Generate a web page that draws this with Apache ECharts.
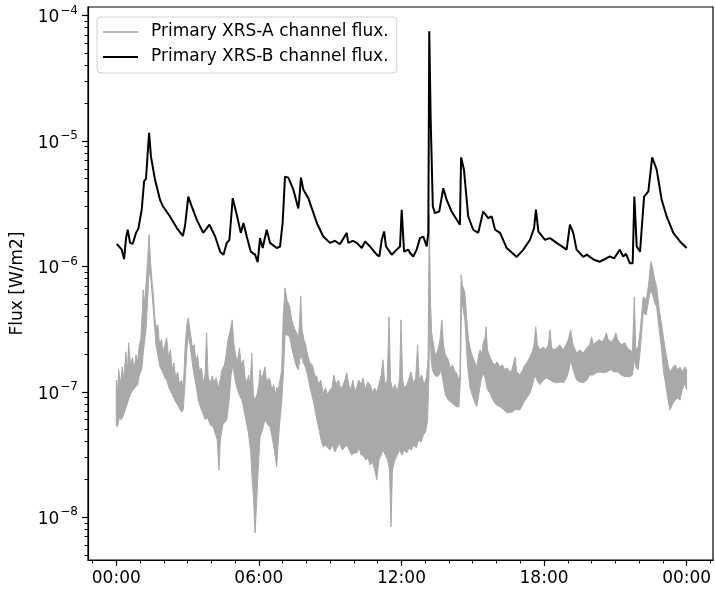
<!DOCTYPE html>
<html>
<head>
<meta charset="utf-8">
<script src="https://cdn.jsdelivr.net/npm/echarts@6/dist/echarts.min.js"></script>
<style>
html,body{margin:0;padding:0;background:#fff;}
#chart{width:715px;height:589px;}
</style>
</head>
<body>
<div id="chart"></div>
<script>
// ---- Data (hours since 00:00, flux in W/m2) ----
const seriesNames = ['Primary XRS-A channel flux.', 'Primary XRS-B channel flux.'];

// XRS-B (long channel)
const timesB = [0.02,0.23,0.33,0.41,0.48,0.58,0.69,0.83,0.93,1.07,1.17,1.25,1.38,1.46,1.63,1.84,1.97,2.26,2.55,2.80,2.89,3.03,3.18,3.39,3.66,3.92,4.16,4.37,4.51,4.65,4.76,4.90,5.07,5.24,5.35,5.49,5.66,5.84,5.95,6.05,6.16,6.33,6.47,6.75,6.89,7.00,7.10,7.24,7.45,7.66,7.70,7.77,7.87,8.08,8.44,8.71,8.99,9.20,9.41,9.70,9.76,9.95,10.12,10.33,10.47,10.68,10.96,11.07,11.17,11.27,11.35,11.59,11.80,11.94,12.01,12.11,12.29,12.36,12.50,12.64,12.78,12.92,13.06,13.13,13.17,13.23,13.32,13.41,13.59,13.76,13.90,14.11,14.46,14.51,14.63,14.81,15.02,15.23,15.44,15.65,15.80,15.94,16.15,16.43,16.85,17.13,17.41,17.58,17.66,17.76,18.04,18.25,18.53,18.95,19.09,19.23,19.37,19.65,19.80,19.93,20.10,20.35,20.55,20.77,20.95,21.19,21.33,21.45,21.61,21.73,21.80,21.90,22.04,22.21,22.39,22.55,22.74,22.95,23.16,23.44,23.72,24.00];
const fluxB = [1.51e-6,1.36e-6,1.14e-6,1.68e-6,1.96e-6,1.54e-6,1.51e-6,1.85e-6,2.0e-6,2.83e-6,4.76e-6,5.0e-6,1.16e-5,7.5e-6,4.9e-6,3.4e-6,3.0e-6,2.5e-6,2.02e-6,1.75e-6,2.08e-6,3.6e-6,3.0e-6,2.35e-6,1.85e-6,2.15e-6,1.73e-6,1.31e-6,1.24e-6,1.54e-6,1.63e-6,3.5e-6,2.58e-6,1.85e-6,2.22e-6,1.73e-6,1.31e-6,1.24e-6,1.08e-6,1.68e-6,1.40e-6,1.96e-6,1.54e-6,1.40e-6,1.44e-6,2.22e-6,5.2e-6,5.1e-6,4.1e-6,2.9e-6,3.4e-6,5.1e-6,4.1e-6,3.5e-6,2.22e-6,1.73e-6,1.54e-6,1.60e-6,1.50e-6,1.85e-6,1.54e-6,1.60e-6,1.54e-6,1.40e-6,1.58e-6,1.44e-6,1.24e-6,1.20e-6,1.63e-6,1.90e-6,1.44e-6,1.24e-6,1.36e-6,1.44e-6,2.83e-6,1.31e-6,1.36e-6,1.28e-6,1.20e-6,1.36e-6,1.68e-6,1.73e-6,1.44e-6,1.85e-6,7.5e-5,1.48e-5,3.0e-6,2.66e-6,2.74e-6,4.2e-6,3.4e-6,2.74e-6,2.15e-6,7.4e-6,5.9e-6,2.5e-6,1.96e-6,1.85e-6,2.74e-6,2.43e-6,2.5e-6,1.96e-6,1.85e-6,1.40e-6,1.19e-6,1.36e-6,1.63e-6,2.02e-6,2.83e-6,1.9e-6,1.63e-6,1.68e-6,1.54e-6,1.36e-6,2.15e-6,1.85e-6,1.36e-6,1.19e-6,1.24e-6,1.19e-6,1.13e-6,1.09e-6,1.14e-6,1.20e-6,1.16e-6,1.36e-6,1.20e-6,1.26e-6,1.06e-6,1.06e-6,3.6e-6,1.44e-6,1.31e-6,3.6e-6,3.96e-6,7.4e-6,5.9e-6,3.4e-6,2.5e-6,1.85e-6,1.58e-6,1.40e-6];

// XRS-A (short channel) is a noisy band: upper and lower edges
const timesUpperA = [0.00,0.05,0.10,0.18,0.25,0.32,0.40,0.47,0.52,0.60,0.68,0.75,0.83,0.90,0.97,1.03,1.10,1.13,1.18,1.25,1.32,1.38,1.44,1.50,1.56,1.62,1.70,1.75,1.82,1.90,1.97,2.05,2.12,2.20,2.28,2.35,2.42,2.50,2.58,2.66,2.75,2.82,2.90,2.97,3.03,3.10,3.20,3.28,3.35,3.42,3.50,3.58,3.66,3.74,3.80,3.86,3.95,4.03,4.10,4.20,4.30,4.37,4.45,4.55,4.62,4.70,4.80,4.88,4.95,5.02,5.10,5.18,5.26,5.35,5.42,5.50,5.57,5.63,5.70,5.77,5.84,5.92,6.00,6.05,6.12,6.20,6.26,6.33,6.40,6.47,6.55,6.62,6.70,6.75,6.82,6.89,6.96,7.02,7.10,7.18,7.30,7.38,7.45,7.52,7.59,7.66,7.72,7.76,7.82,7.90,7.97,8.05,8.15,8.25,8.35,8.44,8.52,8.60,8.71,8.80,8.90,8.99,9.08,9.15,9.25,9.35,9.45,9.55,9.62,9.70,9.78,9.88,9.95,10.05,10.12,10.20,10.30,10.38,10.48,10.58,10.68,10.78,10.88,10.96,11.05,11.15,11.22,11.30,11.40,11.48,11.54,11.62,11.73,11.82,11.92,11.98,12.05,12.12,12.22,12.30,12.40,12.50,12.60,12.68,12.75,12.85,12.95,13.05,13.12,13.17,13.22,13.27,13.35,13.42,13.48,13.56,13.62,13.70,13.77,13.85,13.97,14.05,14.15,14.25,14.32,14.40,14.46,14.51,14.56,14.67,14.75,14.82,14.88,14.96,15.05,15.17,15.25,15.31,15.38,15.44,15.52,15.56,15.62,15.72,15.82,15.92,16.02,16.15,16.25,16.35,16.45,16.55,16.65,16.78,16.85,16.99,17.10,17.20,17.30,17.41,17.50,17.58,17.65,17.72,17.82,17.97,18.08,18.18,18.25,18.32,18.42,18.55,18.65,18.81,18.92,19.02,19.12,19.22,19.37,19.50,19.65,19.80,19.92,20.00,20.08,20.20,20.32,20.45,20.55,20.62,20.70,20.85,20.95,21.02,21.10,21.25,21.40,21.50,21.61,21.72,21.80,21.86,21.96,22.05,22.17,22.30,22.40,22.49,22.57,22.66,22.74,22.85,22.95,23.02,23.12,23.22,23.30,23.40,23.51,23.62,23.72,23.82,23.93,24.00];
const upperA = [1.24e-7,9.45e-8,1.5e-7,1.14e-7,1.58e-7,1.24e-7,2.08e-7,1.44e-7,2.46e-7,1.64e-7,1.87e-7,1.5e-7,1.97e-7,1.73e-7,2.37e-7,2.6e-7,4.5e-7,6.5e-7,4.94e-7,7.13e-7,1.13e-6,1.79e-6,1.09e-6,7.8e-7,5.93e-7,3.89e-7,3.12e-7,3.42e-7,2.37e-7,2.6e-7,2.08e-7,2.37e-7,2.69e-7,1.87e-7,2.16e-7,1.5e-7,1.7e-7,1.29e-7,1.44e-7,1.14e-7,1.24e-7,1.04e-7,2.37e-7,3.42e-7,3.89e-7,3.12e-7,2.28e-7,2.37e-7,1.73e-7,1.97e-7,1.44e-7,1.55e-7,1.18e-7,1.36e-7,2.95e-7,1.36e-7,1.14e-7,1.34e-7,1.2e-7,1.29e-7,1.07e-7,1.24e-7,1.5e-7,1.64e-7,1.97e-7,2.6e-7,3.12e-7,3.75e-7,2.37e-7,1.97e-7,1.73e-7,2.24e-7,1.64e-7,1.8e-7,1.29e-7,1.18e-7,1.36e-7,1.07e-7,2.04e-7,9.45e-8,8.6e-8,9.45e-8,1.14e-7,1.5e-7,1.24e-7,1.44e-7,1.58e-7,1.14e-7,1.29e-7,1.24e-7,1.04e-7,1.14e-7,9.45e-8,1.09e-7,1.04e-7,1.24e-7,1.5e-7,3.75e-7,6.75e-7,5.41e-7,4.76e-7,3.75e-7,3.42e-7,3.12e-7,2.95e-7,2.6e-7,3.75e-7,5.82e-7,3.12e-7,2.6e-7,2.37e-7,1.97e-7,1.7e-7,1.64e-7,1.36e-7,1.32e-7,1.14e-7,1.24e-7,9.8e-8,1.07e-7,9.45e-8,1.04e-7,1.07e-7,1.36e-7,1.14e-7,1.24e-7,1.04e-7,1.14e-7,1.24e-7,1.42e-7,1.14e-7,1.04e-7,1.24e-7,1.0e-7,1.09e-7,1.24e-7,1.14e-7,1.29e-7,1.04e-7,1.2e-7,1.14e-7,1.0e-7,1.07e-7,9.8e-8,1.14e-7,1.36e-7,1.8e-7,1.14e-7,1.24e-7,3.96e-7,1.24e-7,1.04e-7,1.14e-7,1.0e-7,1.24e-7,3.75e-7,1.24e-7,1.07e-7,1.14e-7,1.24e-7,1.44e-7,1.18e-7,1.29e-7,2.37e-7,1.24e-7,1.36e-7,1.14e-7,1.29e-7,1.8e-7,2.58e-6,5.41e-7,2.95e-7,2.37e-7,1.97e-7,2.04e-7,2.24e-7,2.6e-7,3.75e-7,2.37e-7,1.97e-7,1.8e-7,1.55e-7,1.64e-7,1.44e-7,1.42e-7,1.24e-7,1.36e-7,8.6e-7,7.13e-7,6.15e-7,3.75e-7,2.6e-7,2.28e-7,1.97e-7,1.8e-7,1.58e-7,1.97e-7,2.16e-7,1.97e-7,2.46e-7,2.69e-7,3.3e-7,2.16e-7,1.9e-7,1.73e-7,1.64e-7,1.73e-7,1.58e-7,1.64e-7,1.5e-7,1.55e-7,1.44e-7,1.5e-7,1.9e-7,1.44e-7,1.36e-7,1.5e-7,1.64e-7,1.73e-7,1.9e-7,2.08e-7,2.37e-7,3.3e-7,2.37e-7,2.16e-7,2.28e-7,2.16e-7,2.37e-7,3.12e-7,2.24e-7,2.16e-7,2.24e-7,2.37e-7,2.16e-7,2.37e-7,2.6e-7,3.12e-7,2.37e-7,2.04e-7,2.16e-7,2.04e-7,2.24e-7,2.37e-7,2.74e-7,2.37e-7,2.5e-7,2.6e-7,2.5e-7,2.69e-7,2.95e-7,2.6e-7,2.5e-7,2.69e-7,2.95e-7,2.6e-7,2.37e-7,2.46e-7,2.24e-7,2.16e-7,2.08e-7,5.72e-7,2.16e-7,2.28e-7,3.12e-7,5.72e-7,5.41e-7,7.13e-7,1.09e-6,9.75e-7,7.8e-7,6.87e-7,4.5e-7,3.42e-7,2.74e-7,2.08e-7,1.64e-7,1.42e-7,1.55e-7,1.64e-7,1.5e-7,1.58e-7,1.44e-7,1.58e-7,1.5e-7];
const timesLowerA = [0.00,0.05,0.12,0.20,0.28,0.35,0.45,0.55,0.65,0.72,0.80,0.90,0.97,1.07,1.15,1.25,1.32,1.38,1.46,1.56,1.67,1.75,1.84,1.95,2.05,2.12,2.22,2.30,2.40,2.50,2.58,2.68,2.75,2.82,2.90,2.97,3.03,3.10,3.17,3.24,3.35,3.45,3.53,3.62,3.74,3.85,3.95,4.08,4.18,4.25,4.32,4.38,4.48,4.58,4.65,4.75,4.83,4.90,5.00,5.07,5.18,5.28,5.35,5.45,5.56,5.65,5.72,5.78,5.84,5.90,5.97,6.05,6.15,6.26,6.38,6.47,6.58,6.68,6.75,6.82,6.89,6.96,7.04,7.10,7.18,7.30,7.40,7.50,7.59,7.66,7.72,7.78,7.86,7.94,8.05,8.15,8.28,8.44,8.55,8.62,8.71,8.80,8.90,8.99,9.10,9.20,9.30,9.40,9.50,9.60,9.70,9.80,9.90,10.00,10.12,10.22,10.30,10.38,10.50,10.60,10.68,10.78,10.88,10.96,11.05,11.15,11.22,11.32,11.42,11.50,11.56,11.62,11.73,11.82,11.92,12.02,12.12,12.22,12.32,12.42,12.52,12.62,12.72,12.82,12.92,13.02,13.10,13.15,13.20,13.25,13.30,13.40,13.48,13.58,13.66,13.74,13.85,13.97,14.08,14.20,14.32,14.42,14.48,14.53,14.60,14.67,14.78,14.88,14.98,15.08,15.17,15.25,15.35,15.44,15.52,15.62,15.72,15.85,15.98,16.15,16.30,16.40,16.50,16.65,16.80,16.99,17.10,17.20,17.30,17.41,17.52,17.62,17.70,17.82,17.97,18.10,18.25,18.40,18.55,18.70,18.81,18.95,19.05,19.12,19.22,19.37,19.50,19.65,19.80,19.92,20.05,20.20,20.35,20.50,20.65,20.80,20.95,21.10,21.25,21.40,21.50,21.61,21.72,21.80,21.88,21.96,22.05,22.17,22.30,22.40,22.49,22.57,22.66,22.74,22.85,22.95,23.02,23.12,23.22,23.30,23.40,23.51,23.62,23.72,23.82,23.93,24.00];
const lowerA = [5.45e-8,5.25e-8,6.2e-8,6.0e-8,6.3e-8,6.9e-8,7.9e-8,9.1e-8,1.0e-7,1.04e-7,1.09e-7,1.14e-7,1.36e-7,1.5e-7,2.16e-7,3.12e-7,5.41e-7,9.4e-7,7.8e-7,4.5e-7,2.37e-7,1.97e-7,1.58e-7,1.44e-7,1.29e-7,1.24e-7,1.07e-7,1.0e-7,9.1e-8,8.3e-8,7.9e-8,7.2e-8,6.9e-8,7.2e-8,1.24e-7,2.16e-7,2.85e-7,2.37e-7,1.87e-7,1.5e-7,1.14e-7,8.6e-8,7.6e-8,6.9e-8,6.0e-8,6.2e-8,5.45e-8,5.25e-8,4.53e-8,4.13e-8,2.38e-8,4.13e-8,5.45e-8,5.75e-8,6.0e-8,8.6e-8,1.36e-7,1.64e-7,1.24e-7,1.09e-7,9.45e-8,8.6e-8,7.6e-8,6.0e-8,4.7e-8,3.44e-8,1.98e-8,1.37e-8,7.5e-9,1.25e-8,2.38e-8,4.37e-8,4.97e-8,6.0e-8,5.45e-8,5.25e-8,4.13e-8,3.13e-8,2.52e-8,4.13e-8,6.0e-8,8.15e-8,1.5e-7,2.85e-7,2.85e-7,2.74e-7,2.16e-7,1.8e-7,1.58e-7,1.5e-7,1.8e-7,1.97e-7,1.73e-7,1.61e-7,1.36e-7,1.09e-7,8.6e-8,6.0e-8,4.8e-8,4.13e-8,3.63e-8,3.77e-8,3.57e-8,3.44e-8,3.77e-8,3.31e-8,3.63e-8,3.91e-8,3.44e-8,3.57e-8,3.77e-8,3.44e-8,3.13e-8,3.25e-8,3.25e-8,3.57e-8,3.13e-8,3.13e-8,2.86e-8,2.97e-8,2.61e-8,2.76e-8,2.38e-8,1.98e-8,2.86e-8,3.13e-8,3.44e-8,3.13e-8,2.86e-8,2.38e-8,8.4e-9,2.38e-8,2.86e-8,3.13e-8,3.44e-8,3.13e-8,3.44e-8,3.25e-8,3.57e-8,3.44e-8,3.77e-8,3.57e-8,4.13e-8,3.98e-8,4.53e-8,4.8e-8,6.0e-8,1.24e-7,3.75e-7,1.8e-7,1.5e-7,1.36e-7,1.32e-7,1.36e-7,1.5e-7,1.24e-7,9.45e-8,8.6e-8,8.3e-8,7.9e-8,7.6e-8,7.6e-8,1.24e-7,5.41e-7,4.5e-7,3.75e-7,1.64e-7,1.09e-7,9.45e-8,8.3e-8,7.6e-8,9.45e-8,1.24e-7,1.42e-7,1.29e-7,1.04e-7,9.8e-8,8.6e-8,7.9e-8,7.6e-8,7.2e-8,6.9e-8,6.8e-8,6.9e-8,7.2e-8,7.2e-8,7.9e-8,8.6e-8,9.1e-8,9.8e-8,1.14e-7,1.36e-7,1.24e-7,1.14e-7,1.24e-7,1.29e-7,1.24e-7,1.2e-7,1.18e-7,1.2e-7,1.18e-7,1.29e-7,1.5e-7,1.8e-7,1.5e-7,1.24e-7,1.2e-7,1.18e-7,1.24e-7,1.36e-7,1.36e-7,1.42e-7,1.44e-7,1.42e-7,1.44e-7,1.5e-7,1.44e-7,1.44e-7,1.36e-7,1.32e-7,1.32e-7,1.32e-7,1.36e-7,1.8e-7,1.55e-7,1.5e-7,2.16e-7,4.26e-7,4.11e-7,5.41e-7,6.5e-7,5.93e-7,5.12e-7,4.76e-7,3.12e-7,2.16e-7,1.5e-7,1.14e-7,8.6e-8,7.2e-8,7.9e-8,8.6e-8,8.9e-8,8.6e-8,1.04e-7,1.18e-7,1.04e-7];

// ---- Axes ticks ----
const xMajorTicks = [0, 6, 12, 18, 24];
const xTickLabels = ['00:00', '06:00', '12:00', '18:00', '00:00'];
const xMinorTicks = [-1,0,1,2,3,4,5,6,7,8,9,10,11,12,13,14,15,16,17,18,19,20,21,22,23,24,25];
const yMajorTicks = [1e-8, 1e-7, 1e-6, 1e-5, 1e-4];
const yTickExponents = ['8', '7', '6', '5', '4'];
const yMinorMantissas = [2,3,4,5,6,7,8,9];
const yMinorDecades = [1e-9, 1e-8, 1e-7, 1e-6, 1e-5];

const xMin = -1.19, xMax = 25.11;
const yMin = 4.56e-9, yMax = 1.17e-4;

const yMinorTicks = [];
yMinorDecades.forEach(d => yMinorMantissas.forEach(m => {
  const v = m * d;
  if (v > yMin && v < yMax) yMinorTicks.push(v);
}));

const dataB = fluxB.map((v, i) => [timesB[i], v]);
const upperPts = upperA.map((v, i) => [timesUpperA[i], v]);
const lowerPts = lowerA.map((v, i) => [timesLowerA[i], v]);

const FONT = 'DejaVu Sans';
const GREY = '#a9a9a9';

const chart = echarts.init(document.getElementById('chart'), null, {renderer: 'canvas'});
chart.setOption({
  animation: false,
  backgroundColor: '#ffffff',
  textStyle: {fontFamily: FONT},
  grid: {left: 88, right: 2, top: 7, bottom: 29, show: true, borderColor: '#000', borderWidth: 1.2, backgroundColor: 'transparent'},
  legend: {
    orient: 'vertical', left: 97, top: 17,
    data: [
      {name: seriesNames[0], icon: 'rect', itemStyle: {color: '#b5b5b5'}},
      {name: seriesNames[1], icon: 'rect', itemStyle: {color: '#000'}}
    ],
    itemWidth: 35, itemHeight: 2, itemGap: 5,
    padding: [5, 8, 6, 6],
    borderColor: '#d0d0d0', borderWidth: 1, borderRadius: 4,
    backgroundColor: 'rgba(255,255,255,0.8)',
    textStyle: {fontFamily: FONT, fontSize: 17, color: '#000', lineHeight: 20, padding: [0,0,0,8]}
  },
  xAxis: [{
    type: 'value', min: xMin, max: xMax, position: 'bottom',
    axisLine: {show: true, onZero: false, lineStyle: {color: '#000', width: 1.2}},
    axisTick: {show: true, length: 6, customValues: xMajorTicks, lineStyle: {color: '#000', width: 1.2}},
    axisLabel: {show: true, customValues: xMajorTicks, margin: 10, fontSize: 17, color: '#000', fontFamily: FONT,
      formatter: v => xTickLabels[xMajorTicks.indexOf(Math.round(v))] || ''},
    splitLine: {show: false}
  }, {
    type: 'value', min: xMin, max: xMax, position: 'bottom', gridIndex: 0,
    axisLine: {show: false, onZero: false},
    axisTick: {show: true, length: 3.5, customValues: xMinorTicks, lineStyle: {color: '#000', width: 1}},
    axisLabel: {show: false},
    splitLine: {show: false}
  }],
  yAxis: [{
    type: 'log', logBase: 10, min: yMin, max: yMax, position: 'left',
    name: 'Flux [W/m2]', nameLocation: 'middle', nameGap: 62, nameRotate: 90,
    nameTextStyle: {fontFamily: FONT, fontSize: 17, color: '#000'},
    axisLine: {show: true, onZero: false, lineStyle: {color: '#000', width: 1.2}},
    axisTick: {show: true, length: 6, customValues: yMajorTicks, lineStyle: {color: '#000', width: 1.2}},
    axisLabel: {show: true, customValues: yMajorTicks, margin: 10, color: '#000',
      formatter: v => {
        const idx = yMajorTicks.findIndex(t => Math.abs(Math.log10(t) - Math.log10(v)) < 1e-6);
        const ex = idx >= 0 ? yTickExponents[idx] : String(Math.round(-Math.log10(v)));
        return '{b|10}{s|\u2212' + ex + '}';
      },
      rich: {
        b: {fontFamily: FONT, fontSize: 17, color: '#000', lineHeight: 22, verticalAlign: 'bottom'},
        s: {fontFamily: FONT, fontSize: 12, color: '#000', lineHeight: 22, verticalAlign: 'top', padding: [0,0,6,1]}
      }
    },
    splitLine: {show: false}
  }, {
    type: 'log', logBase: 10, min: yMin, max: yMax, position: 'left', gridIndex: 0,
    axisLine: {show: false, onZero: false},
    axisTick: {show: true, length: 3.5, customValues: yMinorTicks, lineStyle: {color: '#000', width: 1}},
    axisLabel: {show: false},
    splitLine: {show: false}
  }],
  series: [{
    name: seriesNames[0], type: 'custom', xAxisIndex: 0, yAxisIndex: 0,
    data: [[12, 1e-7]], clip: true,
    itemStyle: {color: GREY},
    renderItem: (params, api) => {
      const pts = [];
      upperPts.forEach(p => pts.push(api.coord(p)));
      for (let i = lowerPts.length - 1; i >= 0; i--) pts.push(api.coord(lowerPts[i]));
      return {type: 'polygon', shape: {points: pts},
        style: {fill: GREY, stroke: GREY, lineWidth: 1, lineJoin: 'miter'}};
    },
    z: 2
  }, {
    name: seriesNames[1], type: 'line', xAxisIndex: 0, yAxisIndex: 0,
    data: dataB, symbol: 'none', showSymbol: false,
    lineStyle: {color: '#000000', width: 2}, itemStyle: {color: '#000000'}, z: 3
  }]
});
</script>
</body>
</html>
